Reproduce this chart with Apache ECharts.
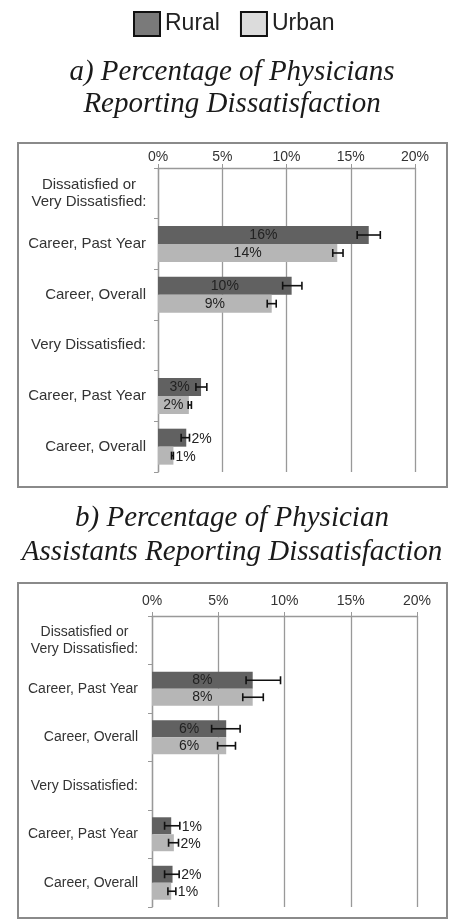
<!DOCTYPE html>
<html>
<head>
<meta charset="utf-8">
<script src="https://cdn.jsdelivr.net/npm/echarts@6/dist/echarts.min.js"></script>
<style>
  html, body { margin: 0; padding: 0; background: #fff; }
  #container { width: 450px; height: 920px; }
</style>
</head>
<body>
<div id="container"></div>
<script>
var categories = ['Dissatisfied or\nVery Dissatisfied:', 'Career, Past Year', 'Career, Overall',
    'Very Dissatisfied:', 'Career, Past Year', 'Career, Overall'];
var ticks = [0, 5, 10, 15, 20];

// a) physicians, percent (header rows are null)
var physRural   = [null, 16.4, 10.4, null, 3.35, 2.2];
var physRuralLo = [null, 15.5, 9.7,  null, 2.95, 1.8];
var physRuralHi = [null, 17.3, 11.2, null, 3.8,  2.45];
var physUrban   = [null, 13.95, 8.85, null, 2.4,  1.2];
var physUrbanLo = [null, 13.6,  8.5,  null, 2.35, 1.05];
var physUrbanHi = [null, 14.4,  9.2,  null, 2.6,  1.2];

// b) physician assistants, percent
var paRural   = [null, 7.6, 5.6,  null, 1.45, 1.55];
var paRuralLo = [null, 7.1, 4.5,  null, 0.95, 0.95];
var paRuralHi = [null, 9.7, 6.65, null, 2.1,  2.05];
var paUrban   = [null, 7.6,  5.6,  null, 1.65, 1.45];
var paUrbanLo = [null, 6.85, 4.95, null, 1.25, 1.2];
var paUrbanHi = [null, 8.4,  6.3,  null, 2.0,  1.8];

var dom = document.getElementById('container');
var myChart = echarts.init(dom, null, { renderer: 'canvas' });

var SANS = 'Liberation Sans';
var SMALL = 2.3; // bars below this get their label outside

function errData(vals, lo, hi) {
    var out = [];
    vals.forEach(function (v, i) {
        if (v != null) out.push([i, lo[i], hi[i], v]);
    });
    return out;
}

function errRender(sign, gap) {
    return function (params, api) {
        var cat = api.value(0);
        var lo = api.value(1), hi = api.value(2), val = api.value(3);
        var band = api.size([0, 1])[1];
        var barH = band * (1 - gap) / 2;
        var y = api.coord([0, cat])[1] + sign * barH / 2;
        var x1 = api.coord([lo, cat])[0];
        var x2 = api.coord([hi, cat])[0];
        var st = { stroke: '#111', lineWidth: 1.6 };
        var kids = [
            { type: 'line', shape: { x1: x1, y1: y, x2: x2, y2: y }, style: st },
            { type: 'line', shape: { x1: x1, y1: y - 4, x2: x1, y2: y + 4 }, style: st },
            { type: 'line', shape: { x1: x2, y1: y - 4, x2: x2, y2: y + 4 }, style: st }
        ];
        if (val < SMALL) {
            kids.push({
                type: 'text',
                style: {
                    text: Math.round(val) + '%', x: x2 + 2, y: y + 1,
                    verticalAlign: 'middle', align: 'left',
                    fontSize: 14, fontFamily: SANS, fill: '#222'
                }
            });
        }
        return { type: 'group', children: kids };
    };
}

function barSeries(name, data, idx, color, gap) {
    return {
        name: name,
        type: 'bar',
        xAxisIndex: idx,
        yAxisIndex: idx,
        data: data,
        barGap: '0%',
        barCategoryGap: gap,
        itemStyle: { color: color },
        label: {
            show: true,
            position: 'inside',
            color: '#222',
            fontSize: 14,
            fontFamily: SANS,
            formatter: function (p) {
                return p.value >= SMALL ? Math.round(p.value) + '%' : '';
            }
        },
        z: 2
    };
}

function errSeries(data, idx, sign, gap) {
    return {
        type: 'custom',
        xAxisIndex: idx,
        yAxisIndex: idx,
        data: data,
        encode: { x: [1, 2], y: 0 },
        renderItem: errRender(sign, gap),
        z: 5,
        silent: true
    };
}

function xAxisFor(idx, labelMargin) {
    return {
        type: 'value',
        gridIndex: idx,
        position: 'top',
        min: ticks[0],
        max: ticks[ticks.length - 1],
        interval: ticks[1] - ticks[0],
        axisLine: { show: true, lineStyle: { color: '#999', width: 1.3 } },
        axisTick: { show: true, length: 4, lineStyle: { color: '#999' } },
        splitLine: { show: true, lineStyle: { color: '#999', width: 1.3 } },
        axisLabel: {
            color: '#333', fontSize: 14, fontFamily: SANS, margin: labelMargin,
            formatter: '{value}%'
        }
    };
}

function yAxisFor(idx, labelMargin, fs, headW) {
    return {
        type: 'category',
        gridIndex: idx,
        inverse: true,
        data: categories,
        axisLine: { show: true, lineStyle: { color: '#999', width: 1.3 } },
        axisTick: { show: true, length: 4, lineStyle: { color: '#999' } },
        splitLine: { show: false },
        axisLabel: {
            color: '#333', fontSize: fs, fontFamily: SANS, margin: labelMargin,
            lineHeight: 17,
            formatter: function (v) {
                if (v.indexOf('\n') < 0) return v;
                return v.split('\n').map(function (s) { return '{c|' + s + '}'; }).join('\n');
            },
            rich: {
                c: { width: headW, align: 'center', color: '#333', fontSize: fs, fontFamily: SANS, lineHeight: 17 }
            }
        }
    };
}

var titleStyle = {
    fontFamily: 'Liberation Serif',
    fontStyle: 'italic',
    fontWeight: 'normal',
    fontSize: 29,
    color: '#1a1a1a'
};

myChart.setOption({
    animation: false,
    backgroundColor: '#fff',
    title: [
        {
            text: 'a) Percentage of Physicians\nReporting Dissatisfaction',
            left: 232, top: 56, textAlign: 'center', padding: 0,
            textStyle: Object.assign({ lineHeight: 32 }, titleStyle)
        },
        {
            text: 'b) Percentage of Physician\nAssistants Reporting Dissatisfaction',
            left: 232, top: 501, textAlign: 'center', padding: 0,
            textStyle: Object.assign({ lineHeight: 34 }, titleStyle)
        }
    ],
    legend: {
        left: 133,
        top: 11,
        itemWidth: 26,
        itemHeight: 24,
        itemGap: 20,
        padding: 0,
        selectedMode: false,
        textStyle: { fontSize: 23, fontFamily: SANS, color: '#222' },
        data: [
            { name: 'Rural', icon: 'rect', itemStyle: { color: '#7a7a7a', borderColor: '#111', borderWidth: 2 } },
            { name: 'Urban', icon: 'rect', itemStyle: { color: '#dcdcdc', borderColor: '#111', borderWidth: 2 } }
        ]
    },
    graphic: [
        { type: 'rect', shape: { x: 18, y: 143, width: 429, height: 344 },
          style: { fill: 'none', stroke: '#8a8a8a', lineWidth: 2 }, z: -1 },
        { type: 'rect', shape: { x: 18, y: 583, width: 429, height: 335 },
          style: { fill: 'none', stroke: '#8a8a8a', lineWidth: 2 }, z: -1 }
    ],
    grid: [
        { left: 158, right: 35, top: 168, height: 304 },
        { left: 152, right: 33, top: 616, height: 291 }
    ],
    xAxis: [xAxisFor(0, 4), xAxisFor(1, 8)],
    yAxis: [yAxisFor(0, 12, 15, 114), yAxisFor(1, 14, 14, 107)],
    series: [
        barSeries('Rural', physRural, 0, '#616161', '29%'),
        barSeries('Urban', physUrban, 0, '#b6b6b6', '29%'),
        errSeries(errData(physRural, physRuralLo, physRuralHi), 0, -1, 0.29),
        errSeries(errData(physUrban, physUrbanLo, physUrbanHi), 0, 1, 0.29),
        barSeries('Rural', paRural, 1, '#616161', '30%'),
        barSeries('Urban', paUrban, 1, '#b6b6b6', '30%'),
        errSeries(errData(paRural, paRuralLo, paRuralHi), 1, -1, 0.30),
        errSeries(errData(paUrban, paUrbanLo, paUrbanHi), 1, 1, 0.30)
    ]
});

window.addEventListener('resize', function () {
    myChart.resize();
});
</script>
</body>
</html>
